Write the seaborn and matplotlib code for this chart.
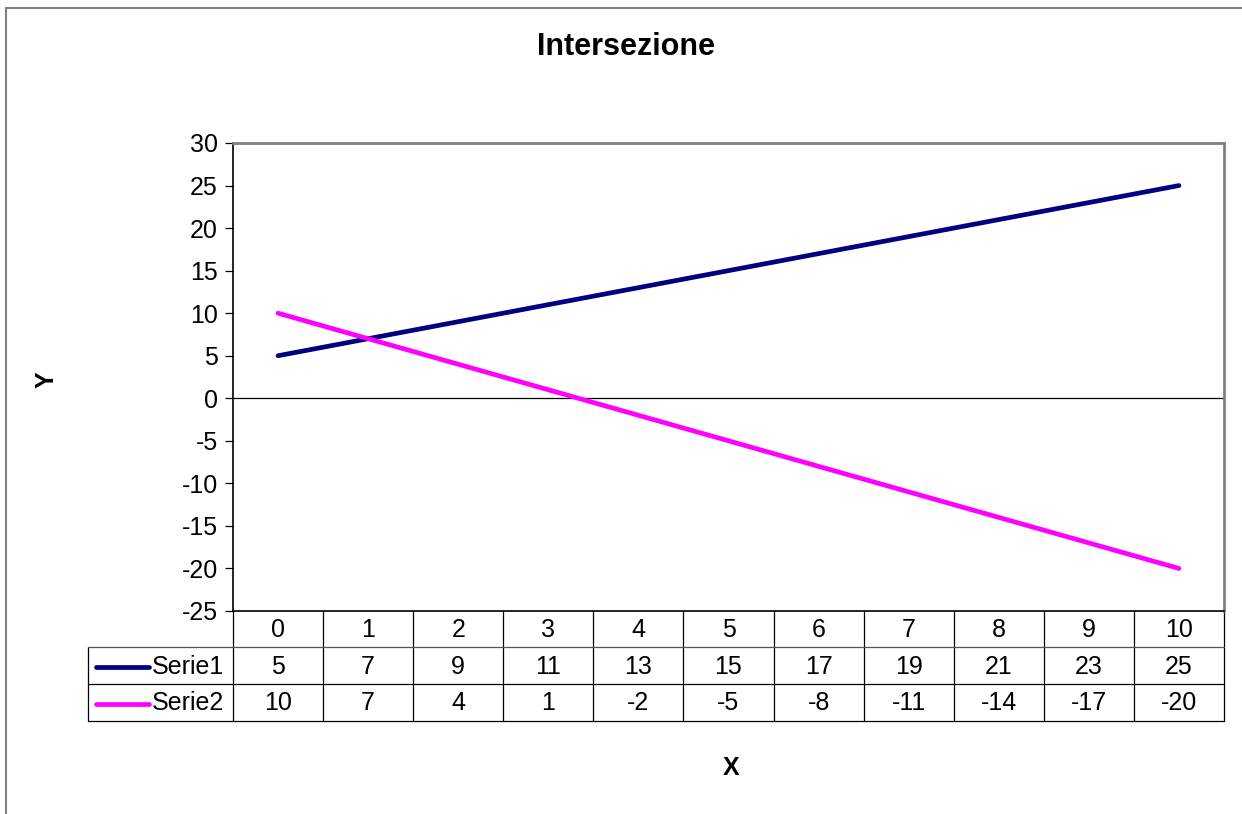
import matplotlib
matplotlib.use("Agg")
import matplotlib.pyplot as plt
import matplotlib.transforms as mtransforms
import seaborn as sns
import pandas as pd

categories = [0, 1, 2, 3, 4, 5, 6, 7, 8, 9, 10]
serie1 = [5, 7, 9, 11, 13, 15, 17, 19, 21, 23, 25]
serie2 = [10, 7, 4, 1, -2, -5, -8, -11, -14, -17, -20]
series_names = ["Serie1", "Serie2"]
colors = ["#000080", "#FF00FF"]
yticks = [-25, -20, -15, -10, -5, 0, 5, 10, 15, 20, 25, 30]
title = "Intersezione"

sns.set_theme(style="white")
plt.rcParams["font.family"] = ["Liberation Sans", "DejaVu Sans"]

W, H = 1242, 814
fig = plt.figure(figsize=(W / 100, H / 100), dpi=100)

FS = 18
LW = 3.4

# plot area in pixels
L, T, R, B = 233, 143, 1224, 611
ax = fig.add_axes([L / W, (H - B) / H, (R - L) / W, (B - T) / H])

pos = list(range(len(categories)))
df = pd.DataFrame({
    "pos": pos * 2,
    "val": serie1 + serie2,
    "serie": [series_names[0]] * len(pos) + [series_names[1]] * len(pos),
})
sns.lineplot(data=df, x="pos", y="val", hue="serie", palette=colors,
             linewidth=LW, ax=ax, legend=False, zorder=3)

ax.axhline(0, color="black", linewidth=0.9, zorder=2)
ax.set_xlim(-0.5, len(categories) - 0.5)
ax.set_ylim(min(yticks), max(yticks))
ax.set_yticks(yticks)
ax.set_yticklabels([str(t) for t in yticks], fontsize=FS)
ax.set_xticks([])
ax.tick_params(axis="y", direction="out", length=6, width=0.9, color="black",
               left=True, pad=5, labelcolor="black")
ax.set_xlabel("")
ax.set_ylabel("")
for side in ["top", "right"]:
    ax.spines[side].set_color("#808080")
    ax.spines[side].set_linewidth(2.0)
for side in ["left", "bottom"]:
    ax.spines[side].set_color("black")
    ax.spines[side].set_linewidth(1.2)
ax.set_facecolor("white")

# data table
trans = mtransforms.blended_transform_factory(ax.transData, ax.transAxes)
ph = B - T
def yf(ypix):
    return (B - ypix) / ph
col_w = (R - L) / len(categories)
xleft = -0.5 + (88 - L) / col_w
rows_y = [611, 647, 684, 721]
n = len(categories)
lc = "black"
lw = 0.9
for i in range(n + 1):
    x = i - 0.5
    ax.plot([x, x], [yf(rows_y[0]), yf(rows_y[3])], transform=trans,
            color=lc, linewidth=lw, clip_on=False)
ax.plot([xleft, xleft], [yf(rows_y[1]), yf(rows_y[3])], transform=trans,
        color=lc, linewidth=lw, clip_on=False)
for j, yy in enumerate(rows_y[1:]):
    ax.plot([xleft, n - 0.5], [yf(yy), yf(yy)], transform=trans,
            color="#555555" if j == 0 else lc, linewidth=lw, clip_on=False)
for i, c in enumerate(categories):
    ax.text(i, yf((rows_y[0] + rows_y[1]) / 2 + 1), str(c), transform=trans,
            ha="center", va="center", fontsize=FS, color="black")
for r, (vals, name, col) in enumerate(zip([serie1, serie2], series_names, colors)):
    yc = yf((rows_y[r + 1] + rows_y[r + 2]) / 2 + 1)
    for i, v in enumerate(vals):
        ax.text(i, yc, str(v), transform=trans, ha="center", va="center",
                fontsize=FS, color="black")
    x0 = xleft + (96 - 88) / col_w
    x1 = xleft + (149 - 88) / col_w
    ax.plot([x0, x1], [yc, yc], transform=trans, color=col, linewidth=LW,
            solid_capstyle="round", clip_on=False)
    ax.text(xleft + (152 - 88) / col_w, yc, name, transform=trans,
            ha="left", va="center", fontsize=FS, color="black")

# titles
fig.text(626 / W, 1 - 47 / H, title, ha="center", va="center",
         fontsize=22, fontweight="bold", color="black")
fig.text(47 / W, 1 - 380 / H, "Y", ha="center", va="center", rotation=90,
         fontsize=FS, fontweight="bold", color="black")
fig.text(731 / W, 1 - 768 / H, "X", ha="center", va="center",
         fontsize=FS, fontweight="bold", color="black")

# outer chart border (top and left visible)
fig.add_artist(plt.Line2D([6 / W, 1.0], [1 - 8 / H, 1 - 8 / H], transform=fig.transFigure,
                          color="#808080", linewidth=1.5))
fig.add_artist(plt.Line2D([6 / W, 6 / W], [0, 1 - 8 / H], transform=fig.transFigure,
                          color="#808080", linewidth=1.5))

fig.savefig("out.png", dpi=100, facecolor="white")
